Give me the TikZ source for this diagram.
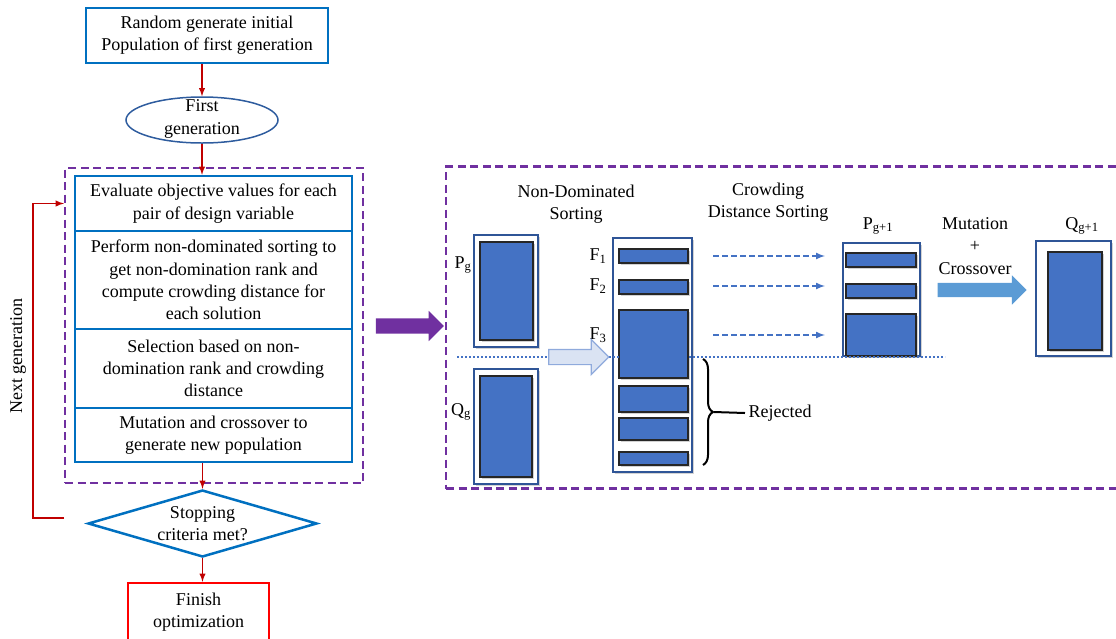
\documentclass[tikz,border=0pt]{standalone}
\usepackage{fontspec}
\setmainfont{Liberation Serif}
\usetikzlibrary{arrows,calc,shapes,shadows,decorations.pathreplacing}

\definecolor{flowblue}{HTML}{0070C0}
\definecolor{ellblue}{HTML}{2E5C9E}
\definecolor{purp}{HTML}{7030A0}
\definecolor{arrred}{HTML}{C00000}
\definecolor{finred}{HTML}{FF0000}
\definecolor{frameblue}{HTML}{2F5597}
\definecolor{barblue}{HTML}{4472C4}
\definecolor{hollowfill}{HTML}{DAE3F3}
\definecolor{hollowedge}{HTML}{8FAADC}
\definecolor{mutblue}{HTML}{5B9BD5}

\tikzset{
  flowbox/.style={draw=flowblue, line width=2.5pt, align=center, inner sep=0pt},
  stepbox/.style={flowbox, minimum width=277pt},
  dashbox/.style={draw=purp, line width=2.2pt, dash pattern=on 8pt off 4.5pt},
  redarrow/.style={draw=arrred, line width=1.8pt, -latex},
  popframe/.style={draw=frameblue, line width=2.2pt, fill=white, inner sep=0pt,
    drop shadow={shadow xshift=2pt, shadow yshift=-2pt, opacity=.35}},
  fbar/.style={draw=black!85, line width=1.5pt, fill=barblue, inner sep=0pt,
    drop shadow={shadow xshift=1.5pt, shadow yshift=-1.5pt, opacity=.35}},
  dasharrow/.style={draw=barblue, line width=2pt, dash pattern=on 6pt off 3pt, -latex},
  cutline/.style={draw=barblue, line width=2pt, dotted},
  txt/.style={align=center, inner sep=0pt}
}

\begin{document}
\begin{tikzpicture}[x=1pt,y=-1pt,font=\fontsize{18}{22.3}\selectfont]
\useasboundingbox (0,0) rectangle (1116,638);
\clip (0,0) rectangle (1116,638);

% left: flow chart
  \node[flowbox, minimum width=242pt, minimum height=55pt] (init) at (207,35.5) {Random generate initial\\Population of first generation};
  \node[ellipse, draw=ellblue, line width=1.5pt, minimum width=152pt, minimum height=46pt, inner sep=0pt] (firstgen) at (202,120) {};
  \node[txt] (firstgentxt) at (202,119) {First\\generation};
  \node[dashbox, minimum width=298pt, minimum height=315pt] (loop) at (214,325.5) {};
  \node[stepbox, minimum height=55pt] (eval) at (213.5,203.5) {Evaluate objective values for each\\pair of design variable};
  \node[stepbox, minimum height=98pt] (sort) at (213.5,280) {Perform non-dominated sorting to\\get non-domination rank and\\compute crowding distance for\\each solution};
  \node[stepbox, minimum height=79pt] (select) at (213.5,368.5) {Selection based on non-\\domination rank and crowding\\distance};
  \node[stepbox, minimum height=54pt] (mutate) at (213.5,435) {Mutation and crossover to\\generate new population};
  \node[diamond, draw=flowblue, line width=2.5pt, minimum width=229pt, minimum height=67pt, inner sep=0pt] (stop) at (202.5,523.5) {};
  \node[txt] (stoptxt) at (stop) {Stopping\\criteria met?};
  \node[draw=finred, line width=2.5pt, minimum width=141pt, minimum height=58pt, align=center, inner sep=0pt] (finish) at (198.5,612) {Finish\\optimization};
  \node[rotate=90] (nextgen) at (18,356) {Next generation};

  \draw[redarrow] (firstgen |- init.south) -- (firstgen.north);
  \draw[redarrow] (firstgen.south) -- (firstgen.south |- eval.north);
  \draw[redarrow] (mutate.south -| stop) -- (stop.north);
  \draw[redarrow] (stop.south) -- (stop.south |- finish.north);
  \coordinate (fbout) at (64,518);
  \draw[redarrow] (fbout) -- ++(-31,0) |- (loop.west |- eval);

% big arrow to the right panel
  \node[single arrow, fill=purp, minimum height=68pt, inner sep=7.5pt, single arrow head extend=7.5pt] (bigarrow) at (406,326) {};

% right: sorting scheme
  \node[dashbox, minimum width=680pt, minimum height=322pt] (nsga) at (786,327.5) {};
  \node[txt] (ndsort) at (576,204) {Non-Dominated\\Sorting};
  \node[txt] (cdsort) at (768,202) {Crowding\\Distance Sorting};

  \node[popframe, minimum width=64pt, minimum height=112pt] (pg) at (506,291) {};
  \node[fbar, minimum width=53pt, minimum height=98pt] (pgfill) at (506.5,291) {};
  \node[popframe, minimum width=64pt, minimum height=115pt] (qg) at (506,426.5) {};
  \node[fbar, minimum width=52pt, minimum height=101pt] (qgfill) at (506,426.5) {};
  \node (pglab) at (463,265) {P\textsubscript{g}};
  \node (qglab) at (461,412) {Q\textsubscript{g}};

  \node[popframe, minimum width=79pt, minimum height=234pt] (fcol) at (652.5,355) {};
  \node[fbar, minimum width=69pt, minimum height=14pt] (f1) at (653.5,256) {};
  \node[fbar, minimum width=69pt, minimum height=14pt] (f2) at (653.5,287) {};
  \node[fbar, minimum width=69pt, minimum height=68pt] (f3) at (653.5,344) {};
  \node[fbar, minimum width=69pt, minimum height=26pt] (f4) at (653.5,399) {};
  \node[fbar, minimum width=69pt, minimum height=22pt] (f5) at (653.5,429) {};
  \node[fbar, minimum width=69pt, minimum height=13pt] (f6) at (653.5,458.5) {};
  \node (f1lab) at (598,256) {F\textsubscript{1}};
  \node (f2lab) at (598,286) {F\textsubscript{2}};
  \node (f3lab) at (598,335) {F\textsubscript{3}};

  \node[popframe, minimum width=77pt, minimum height=113pt] (pnext) at (881.5,299.5) {};
  \node[fbar, minimum width=70pt, minimum height=14pt] (pn1) at (881,260) {};
  \node[fbar, minimum width=70pt, minimum height=14pt] (pn2) at (881,291) {};
  \node[fbar, minimum width=70pt, minimum height=42pt] (pn3) at (881,335) {};
  \node (pnlab) at (878,226) {P\textsubscript{g+1}};

  \node[popframe, minimum width=75pt, minimum height=115pt] (qnext) at (1073.5,298.5) {};
  \node[fbar, minimum width=54pt, minimum height=98pt] (qnfill) at (1075,301) {};
  \node (qnlab) at (1082,226) {Q\textsubscript{g+1}};

  \foreach \f in {f1lab,f2lab,f3lab}
    \draw[dasharrow, shorten <=20pt, shorten >=17pt] (fcol.east |- \f) -- (pnext.west |- \f);

  % cut line between kept and rejected fronts
  \coordinate (cutl) at (457,357);
  \coordinate (cutr) at (945,357);
  \draw[cutline] (cutl) -- (cutr);
  \node[single arrow, draw=hollowedge, fill=hollowfill, line width=1.2pt, minimum height=60pt, inner sep=7pt, single arrow head extend=10pt] (tofronts) at (575,357) {};

  \node[txt] (mutlab) at (975,246) {Mutation\\+\\Crossover};
  \node[single arrow, fill=mutblue, minimum height=89pt, inner sep=7pt, single arrow head extend=7.5pt] (mutarrow) at (978.5,290) {};

  % rejected fronts
  \coordinate (rejtop) at (703,359);
  \coordinate (rejbot) at (703,465);
  \coordinate (rejtip) at (714,412);
  \draw[line width=2pt, decorate, decoration={brace, amplitude=10pt}] (rejtop) -- (rejbot);
  \node (rej) at (780,413) {Rejected};
  \draw[line width=2pt] (rejtip) -- (rej.west);
\end{tikzpicture}
\end{document}
